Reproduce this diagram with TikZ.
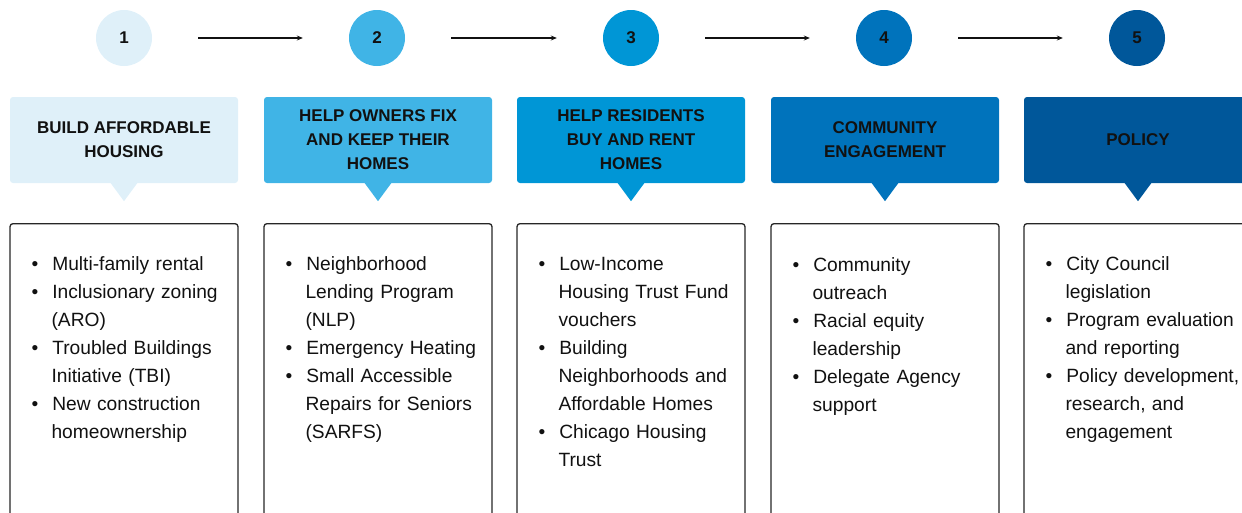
\documentclass[tikz,border=0pt]{standalone}
\usepackage{fontspec}
\setmainfont{Liberation Sans}
\usetikzlibrary{arrows.meta}
\definecolor{cA}{HTML}{DFF0F9}
\definecolor{cB}{HTML}{40B4E6}
\definecolor{cC}{HTML}{0096D6}
\definecolor{cD}{HTML}{0073BC}
\definecolor{cE}{HTML}{00579A}
\definecolor{ink}{HTML}{111111}
\newenvironment{blist}{\begin{list}{\strut\textbullet}{\setlength\leftmargin{20pt}\setlength\labelsep{14pt}\setlength\labelwidth{6pt}\setlength\itemsep{0pt}\setlength\topsep{0pt}\setlength\parsep{0pt}\setlength\partopsep{0pt}}}{\end{list}}
\begin{document}
\begin{tikzpicture}[x=1pt,y=-1pt,
  num/.style={circle, minimum size=56pt, inner sep=0pt, text=ink, font=\fontsize{17}{20}\selectfont\bfseries},
  head/.style={rounded corners=3pt, minimum width=228pt, minimum height=86pt, inner sep=0pt, align=center, text=ink, font=\fontsize{17}{24}\selectfont\bfseries},
  card/.style={draw=black!85, line width=1.3pt, rounded corners=3pt, minimum width=228pt, minimum height=330pt, anchor=north, inner sep=0pt},
  lst/.style={anchor=north west, inner sep=0pt, text width=215pt, align=left, text=ink, font=\fontsize{19.2}{28}\selectfont},
  arr/.style={-{Stealth[length=6pt,width=5pt]}, line width=1.1pt, draw=ink, shorten <=46pt, shorten >=46pt}
]
\useasboundingbox (0,0) rectangle (1242,512);
\clip (0,0) rectangle (1242,512);

% circles
\node[num, fill=cA] (n1) at (124,38) {1};
\node[num, fill=cB] (n2) at (377,38) {2};
\node[num, fill=cC] (n3) at (631,38) {3};
\node[num, fill=cD] (n4) at (884,38) {4};
\node[num, fill=cE] (n5) at (1137,38) {5};
\draw[arr] (n1) -- (n2);
\draw[arr] (n2) -- (n3);
\draw[arr] (n3) -- (n4);
\draw[arr] (n4) -- (n5);

% headers
\node[head, fill=cA] (h1) at (124,140) {BUILD AFFORDABLE\\HOUSING};
\node[head, fill=cB] (h2) at (378,140) {HELP OWNERS FIX\\AND KEEP THEIR\\HOMES};
\node[head, fill=cC] (h3) at (631,140) {HELP RESIDENTS\\BUY AND RENT\\HOMES};
\node[head, fill=cD] (h4) at (885,140) {COMMUNITY\\ENGAGEMENT};
\node[head, fill=cE] (h5) at (1138,140) {POLICY};
\foreach \h/\c in {h1/cA,h2/cB,h3/cC,h4/cD,h5/cE}{
  \fill[\c] ([xshift=-14pt,yshift=1pt]\h.south) -- ([xshift=14pt,yshift=1pt]\h.south) -- ([yshift=-18pt]\h.south) -- cycle;
}

% cards
\node[card] (k1) at (124,223) {};
\node[card] (k2) at (378,223) {};
\node[card] (k3) at (631,223) {};
\node[card] (k4) at (885,223) {};
\node[card] (k5) at (1138,223) {};

\node[lst] (l1) at ([xshift=22pt,yshift=-19.6pt]k1.north west) {\begin{blist}
\item Multi-family rental
\item Inclusionary zoning\newline(ARO)
\item Troubled Buildings\newline Initiative (TBI)
\item New construction\newline homeownership
\end{blist}};
\node[lst] (l2) at ([xshift=22pt,yshift=-19.6pt]k2.north west) {\begin{blist}
\item Neighborhood\newline Lending Program\newline (NLP)
\item Emergency Heating
\item Small Accessible\newline Repairs for Seniors\newline (SARFS)
\end{blist}};
\node[lst] (l3) at ([xshift=22pt,yshift=-19.6pt]k3.north west) {\begin{blist}
\item Low-Income\newline Housing Trust Fund\newline vouchers
\item Building\newline Neighborhoods and\newline Affordable Homes
\item Chicago Housing\newline Trust
\end{blist}};
\node[lst] (l4) at ([xshift=22pt,yshift=-20.6pt]k4.north west) {\begin{blist}
\item Community\newline outreach
\item Racial equity\newline leadership
\item Delegate Agency\newline support
\end{blist}};
\node[lst] (l5) at ([xshift=22pt,yshift=-19.6pt]k5.north west) {\begin{blist}
\item City Council\newline legislation
\item Program evaluation\newline and reporting
\item Policy development,\newline research, and\newline engagement
\end{blist}};
\end{tikzpicture}
\end{document}
